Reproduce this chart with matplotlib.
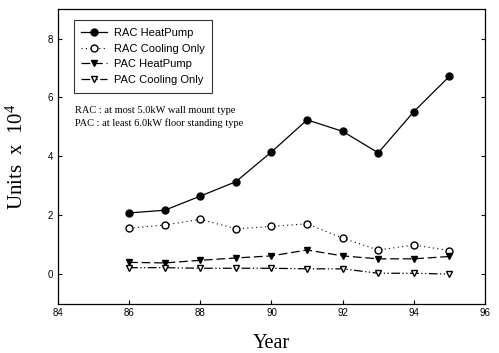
import numpy as np
import matplotlib.pyplot as plt

years = [86, 87, 88, 89, 90, 91, 92, 93, 94, 95]
rac_heatpump = [2.08, 2.17, 2.65, 3.14, 4.15, 5.24, 4.85, 4.12, 5.52, 6.72]
rac_cooling = [1.56, 1.67, 1.86, 1.54, 1.62, 1.71, 1.22, 0.82, 0.99, 0.80]
pac_heatpump = [0.40, 0.38, 0.47, 0.55, 0.62, 0.82, 0.62, 0.52, 0.52, 0.60]
pac_cooling = [0.22, 0.22, 0.20, 0.20, 0.20, 0.18, 0.18, 0.03, 0.03, 0.00]

plt.rcParams['font.family'] = 'Liberation Sans'
plt.rcParams['mathtext.fontset'] = 'custom'
plt.rcParams['mathtext.rm'] = 'Liberation Serif'
plt.rcParams['mathtext.it'] = 'Liberation Serif:italic'

fig = plt.figure(figsize=(4.99, 3.53), dpi=100)
ax = fig.add_axes([0.116, 0.140, 0.856, 0.834])

ax.plot(years, rac_heatpump, color='black', lw=0.9, ls='-',
        marker='o', ms=5, mfc='black', label='RAC HeatPump')
ax.plot(years, rac_cooling, color='black', lw=0.8, ls=(0, (1, 3)),
        marker='o', ms=5, mfc='white', label='RAC Cooling Only')
ax.plot(years, pac_heatpump, color='black', lw=0.9, ls=(0, (7, 3)),
        marker='v', ms=5, mfc='black', label='PAC HeatPump')
ax.plot(years, pac_cooling, color='black', lw=0.9, ls=(0, (7, 2, 1, 2, 1, 2)),
        marker='v', ms=5, mfc='white', label='PAC Cooling Only')

ax.set_xlim(84, 96)
ax.set_ylim(-1, 9)
ax.set_xticks(np.arange(84, 97, 2))
ax.set_yticks(np.arange(0, 9, 2))
ax.tick_params(direction='in', labelsize=7, length=3, width=0.8,
               right=True, top=False)
for sp in ax.spines.values():
    sp.set_linewidth(0.9)

ax.set_xlabel('Year', family='Liberation Serif', fontsize=14.5, labelpad=11)
ax.set_ylabel('Units  x  10$^4$', family='Liberation Serif', fontsize=15, labelpad=14)

leg = ax.legend(loc='upper left', bbox_to_anchor=(0.037, 0.962), fontsize=8,
                frameon=True, fancybox=False, edgecolor='black',
                handlelength=2.3, handletextpad=0.6, labelspacing=0.5,
                borderpad=0.7, borderaxespad=0)
leg.get_frame().set_linewidth(0.8)

ax.text(0.040, 0.655, 'RAC : at most 5.0kW wall mount type', va='center',
        transform=ax.transAxes, family='Liberation Serif', fontsize=7.5)
ax.text(0.040, 0.614, 'PAC : at least 6.0kW floor standing type', va='center',
        transform=ax.transAxes, family='Liberation Serif', fontsize=7.5)

fig.savefig('out.png', dpi=100)
